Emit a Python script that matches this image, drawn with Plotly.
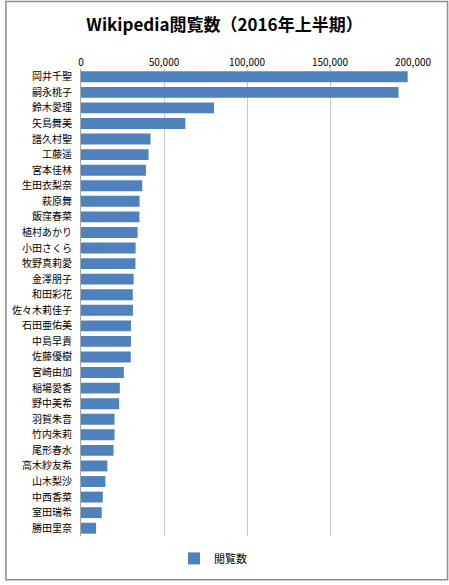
import plotly.graph_objects as go

members = [
    "岡井千聖", "嗣永桃子", "鈴木愛理", "矢島舞美", "譜久村聖", "工藤遥",
    "宮本佳林", "生田衣梨奈", "萩原舞", "飯窪春菜", "植村あかり", "小田さくら",
    "牧野真莉愛", "金澤朋子", "和田彩花", "佐々木莉佳子", "石田亜佑美", "中島早貴",
    "佐藤優樹", "宮崎由加", "稲場愛香", "野中美希", "羽賀朱音", "竹内朱莉",
    "尾形春水", "高木紗友希", "山木梨沙", "中西香菜", "室田瑞希", "勝田里奈",
]
views = [
    196800, 191300, 80100, 62900, 41900, 40700,
    39100, 36900, 35300, 35200, 34100, 32900,
    32800, 31700, 31200, 31300, 30100, 30100,
    30000, 25800, 23400, 23000, 20200, 20200,
    19600, 15900, 14700, 13100, 12500, 9100,
]
x_ticks = [0, 50000, 100000, 150000, 200000]

W, H = 449, 585
ML, MR, MT, MB = 77, 36, 69, 45
pw, ph = W - ML - MR, H - MT - MB

fig = go.Figure()
fig.add_trace(
    go.Bar(
        x=views,
        y=members,
        orientation="h",
        name="閲覧数",
        marker=dict(color="#4F81BD", line=dict(width=0)),
    )
)

fig.update_layout(
    width=W,
    height=H,
    margin=dict(l=ML, r=MR, t=MT, b=MB),
    paper_bgcolor="white",
    plot_bgcolor="white",
    font=dict(family="Noto Sans CJK JP, sans-serif", size=10, color="#000000"),
    title=dict(
        text="<b>Wikipedia閲覧数（2016年上半期）</b>",
        x=0.5,
        xref="container",
        xanchor="center",
        y=0.958,
        yanchor="middle",
        font=dict(size=17, family="Noto Sans CJK JP, sans-serif"),
    ),
    bargap=0.3,
    showlegend=True,
    legend=dict(
        orientation="h",
        x=0.28,
        xanchor="left",
        y=-0.048,
        yanchor="middle",
        font=dict(size=11),
        itemwidth=30,
    ),
    shapes=[
        dict(
            type="rect",
            xref="paper",
            yref="paper",
            x0=-(ML - 1) / pw,
            x1=1 + (MR - 1) / pw,
            y0=-(MB - 1) / ph,
            y1=1 + (MT - 1) / ph,
            line=dict(color="#8c8c8c", width=1.5),
            layer="below",
        )
    ],
)

fig.update_xaxes(
    side="top",
    range=[0, 200000],
    tickvals=x_ticks,
    tickformat=",",
    showgrid=True,
    gridcolor="#c8c8c8",
    gridwidth=1,
    zeroline=False,
    showline=False,
    ticks="",
    tickfont=dict(size=10, family="Noto Sans CJK JP, sans-serif"),
    fixedrange=True,
)
fig.update_yaxes(
    autorange="reversed",
    showline=True,
    linecolor="#a6a6a6",
    linewidth=1,
    showgrid=False,
    ticks="",
    ticklabelstandoff=6,
    tickfont=dict(size=10),
    fixedrange=True,
)

fig.write_html(
    "out.html",
    config={"displayModeBar": False},
    post_script="document.body.style.margin='0';document.body.style.overflow='hidden';",
)
